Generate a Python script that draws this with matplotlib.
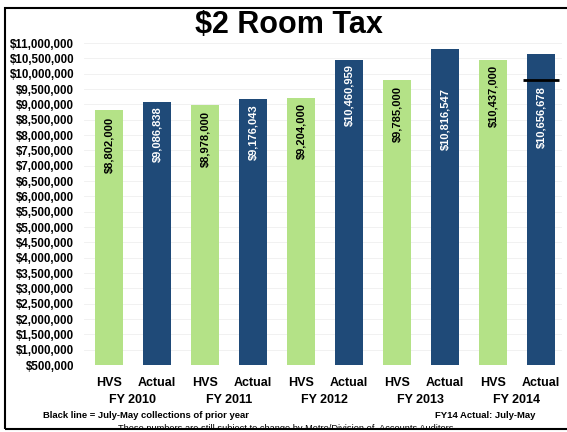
import matplotlib.pyplot as plt
import numpy as np
from matplotlib.patches import Rectangle

plt.rcParams['font.family'] = ['Liberation Sans', 'DejaVu Sans']

bar_labels = ["HVS", "Actual"] * 5
fiscal_years = ["FY 2010", "FY 2011", "FY 2012", "FY 2013", "FY 2014"]
values = [8802000, 9086838, 8978000, 9176043, 9204000,
          10460959, 9785000, 10816547, 10437000, 10656678]
prior_year_line = 9785000
ytick_vals = list(range(500000, 11000001, 500000))

green = "#b4e287"
navy = "#1f4a78"
colors = [green, navy] * 5
text_colors = ["black", "white"] * 5
# how far (px) each value label sits below its bar top
label_drop_px = [6, 5, 6, 5, 5, 5, 6, 39, 5, 33]

W, H = 567, 432
fig = plt.figure(figsize=(W/100, H/100), dpi=100)
# plot area: 84..562 px across, 43..365 px down
ax = fig.add_axes([84/W, 1-365/H, 478/W, 322/H])
ymin, ymax = 500000, 11000000
per_px = (ymax - ymin) / 322

x = np.arange(len(values))
ax.bar(x, values, width=0.59, color=colors, zorder=2)
for xi, v, tc, d in zip(x, values, text_colors, label_drop_px):
    ax.text(xi, v - d*per_px, "${:,}".format(v), rotation=90, ha="center", va="top",
            color=tc, fontsize=8, fontweight="bold", zorder=3)

# July-May collections of prior year, marked on the FY14 actual bar
ax.hlines(prior_year_line, 9 - 0.37, 9 + 0.37, color="black", linewidth=2, zorder=4)

ax.set_ylim(ymin, ymax)
ax.set_xlim(-0.52, 9.44)
ax.set_yticks(ytick_vals)
ax.set_yticklabels(["${:,}".format(v) for v in ytick_vals], fontsize=8.3, fontweight="bold")
ax.set_xticks(x)
ax.set_xticklabels(bar_labels, fontsize=9, fontweight="bold")
ax.tick_params(length=0)
ax.tick_params(axis="y", pad=7)
ax.tick_params(axis="x", pad=9)
ax.grid(axis="y", color="#efefef", linewidth=0.6, zorder=0)
for s in ax.spines.values():
    s.set_visible(False)

for i, fy in enumerate(fiscal_years):
    ax.text(2*i + 0.5, -35/322, fy, transform=ax.get_xaxis_transform(),
            ha="center", va="center", fontsize=9, fontweight="bold")

fig.text(289/W, 1-25/H, "$2 Room Tax", ha="center", va="center", fontsize=22, fontweight="bold")
fig.text(43/W, 1-416/H, "Black line = July-May collections of prior year",
         ha="left", va="center", fontsize=6.8, fontweight="bold")
fig.text(535/W, 1-416/H, "FY14 Actual: July-May",
         ha="right", va="center", fontsize=6.8, fontweight="bold")
fig.text(287/W, 1-428.5/H, "These numbers are still subject to change by Metro/Division of  Accounts Auditors.",
         ha="center", va="center", fontsize=6.7, zorder=1)

# cut off the bottom of the page below the frame, as in the scan
fig.patches.append(Rectangle((0, 0), 1, 3/H, transform=fig.transFigure,
                             facecolor="white", edgecolor="none", zorder=5))
fig.patches.append(Rectangle((5/W, 1-429/H), 1.0, 421/H, transform=fig.transFigure,
                             fill=False, edgecolor="black", linewidth=1.5, zorder=6))

fig.savefig("out.png", dpi=100)
